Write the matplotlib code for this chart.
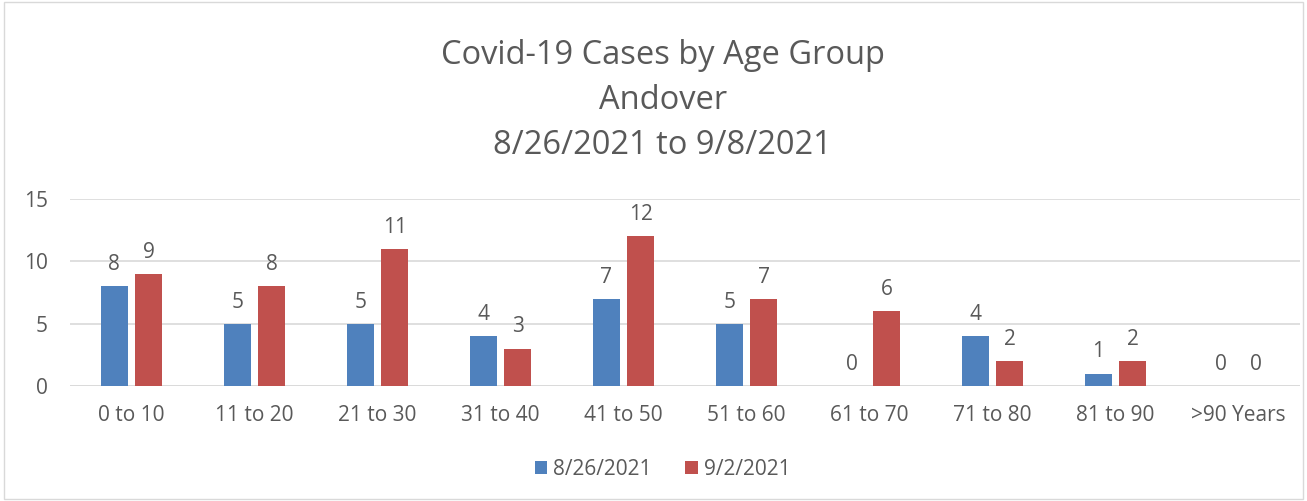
import numpy as np
import matplotlib
matplotlib.use("Agg")
import matplotlib.pyplot as plt
from matplotlib.patches import Rectangle

# Daten
gruppen = ["0 to 10", "11 to 20", "21 to 30", "31 to 40", "41 to 50",
           "51 to 60", "61 to 70", "71 to 80", "81 to 90", ">90 Years"]
faelle_0826 = [8, 5, 5, 4, 7, 5, 0, 4, 1, 0]
faelle_0902 = [9, 8, 11, 3, 12, 7, 6, 2, 2, 0]
serien = ["8/26/2021", "9/2/2021"]
y_ticks = [0, 5, 10, 15]

blau = "#4F81BD"
rot = "#C0504D"
grau = "#595959"

plt.rcParams["font.family"] = ["Open Sans", "DejaVu Sans"]

fig = plt.figure(figsize=(13.07, 5.01), dpi=100)
ax = fig.add_axes([0.0536, 0.2295, 0.9410, 0.3735])

# Rahmen um die Grafik
fig.patches.append(Rectangle((0.003, 0.004), 0.994, 0.992, transform=fig.transFigure,
                             fill=False, edgecolor="#D9D9D9", linewidth=1))

x = np.arange(len(gruppen))
breite = 0.22
b1 = ax.bar(x - 0.14, faelle_0826, breite, color=blau, label=serien[0], zorder=3)
b2 = ax.bar(x + 0.14, faelle_0902, breite, color=rot, label=serien[1], zorder=3)

for balken in (b1, b2):
    ax.bar_label(balken, padding=8, fontsize=15, color=grau)

ax.set_xlim(-0.5, len(gruppen) - 0.5)
ax.set_ylim(0, 15)
ax.set_yticks(y_ticks)
ax.set_xticks(x)
ax.set_xticklabels(gruppen)
ax.tick_params(axis="both", length=0, labelsize=15, labelcolor=grau)
ax.tick_params(axis="x", pad=14)
ax.tick_params(axis="y", pad=16)
ax.grid(axis="y", color="#D9D9D9", linewidth=1.2, zorder=0)
for s in ax.spines.values():
    s.set_visible(False)
ax.axhline(0, color="#D9D9D9", linewidth=1.2, zorder=1)

fig.text(0.507, 0.89, "Covid-19 Cases by Age Group", ha="center", va="center",
         fontsize=23.5, color=grau)
fig.text(0.507, 0.80, "Andover", ha="center", va="center", fontsize=23.5, color=grau)
fig.text(0.507, 0.71, "8/26/2021 to 9/8/2021", ha="center", va="center",
         fontsize=23.5, color=grau)

fig.legend(loc="center", bbox_to_anchor=(0.507, 0.063), ncol=2, frameon=False,
           fontsize=15, labelcolor=grau, handlelength=0.6, handleheight=0.6,
           handletextpad=0.3, columnspacing=1.6)

fig.savefig("out.png", dpi=100)
